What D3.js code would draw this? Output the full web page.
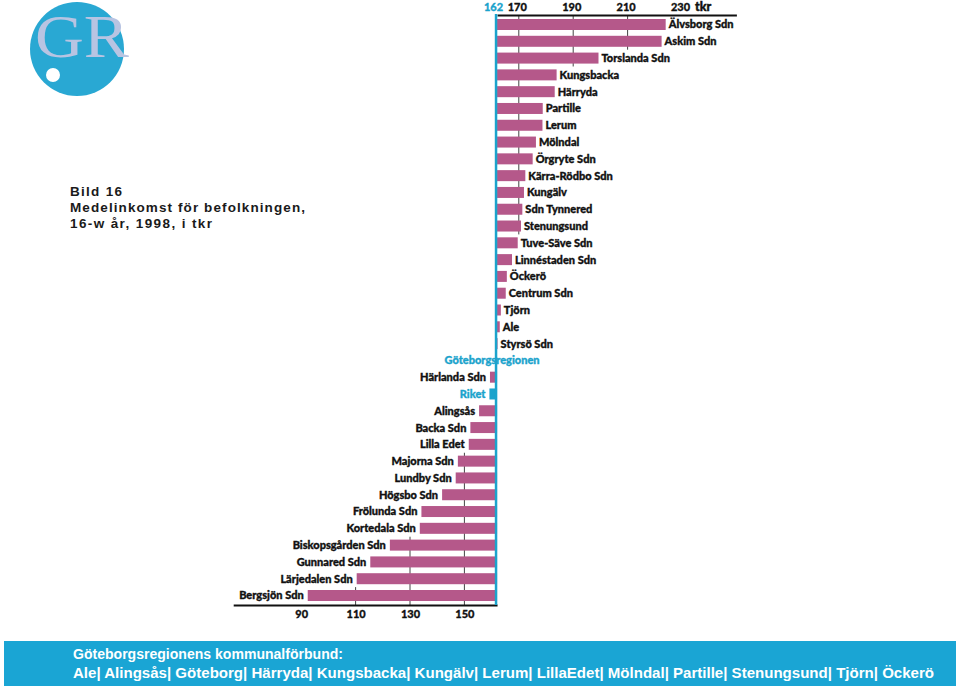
<!DOCTYPE html>
<html>
<head>
<meta charset="utf-8">
<script src="https://cdn.jsdelivr.net/npm/d3@7"></script>
<style>
  html, body { margin: 0; padding: 0; background: #fff; }
  svg { display: block; }
</style>
</head>
<body>
<script>
// ---------------- DATA ----------------
const categories = ["Älvsborg Sdn","Askim Sdn","Torslanda Sdn","Kungsbacka","Härryda","Partille","Lerum","Mölndal","Örgryte Sdn","Kärra-Rödbo Sdn","Kungälv","Sdn Tynnered","Stenungsund","Tuve-Säve Sdn","Linnéstaden Sdn","Öckerö","Centrum Sdn","Tjörn","Ale","Styrsö Sdn","Göteborgsregionen","Härlanda Sdn","Riket","Alingsås","Backa Sdn","Lilla Edet","Majorna Sdn","Lundby Sdn","Högsbo Sdn","Frölunda Sdn","Kortedala Sdn","Biskopsgården Sdn","Gunnared Sdn","Lärjedalen Sdn","Bergsjön Sdn"];
const values = [224.0,222.5,199.3,183.9,183.2,178.8,178.7,176.3,175.1,172.4,171.9,171.3,170.8,169.6,167.5,165.6,165.2,163.4,163.0,162.2,162.0,159.4,159.2,155.4,152.2,151.6,147.6,146.8,141.8,134.2,133.6,122.6,115.4,110.4,92.4];
const highlighted = ["Göteborgsregionen","Riket"];
const baseline = 162;
const topTicks = [162,170,190,210,230];
const bottomTicks = [90,110,130,150];
const unitLabel = "tkr";
const titleLines = ["Bild 16","Medelinkomst för befolkningen,","16-w år, 1998, i tkr"];
const footerLines = ["Göteborgsregionens kommunalförbund:",
  "Ale| Alingsås| Göteborg| Härryda| Kungsbacka| Kungälv| Lerum| LillaEdet| Mölndal| Partille| Stenungsund| Tjörn| Öckerö"];
const logoText = "GR";

// ---------------- STYLE ----------------
const W = 960, H = 686;
const barColor = "#b5588a";
const teal = "#1ba3cc";
const labelFont = "Lato, 'Open Sans', sans-serif";

const data = categories.map((c, i) => ({ name: c, value: values[i] }));

const svg = d3.select("body").append("svg").attr("width", W).attr("height", H);

// scales
const x = d3.scaleLinear().domain([65, 250]).range([233.2, 736.4]);
const y = d3.scaleBand().domain(categories).range([16.1, 603.9]).paddingInner(0.345).paddingOuter(0.1725);
const topAxisY = 15, bottomAxisY = 605;
const x0 = x(baseline);
const step = y.step(), bw = y.bandwidth(), gap = step - bw;

// ---------------- GRIDLINES (behind bars) ----------------
const grid = svg.append("g");
topTicks.filter(t => t !== baseline).forEach(t => {
  const crossing = data.filter(d => d.value > t);
  if (!crossing.length) return;
  const last = crossing[crossing.length - 1];
  grid.append("line").attr("x1", x(t)).attr("x2", x(t))
    .attr("y1", topAxisY).attr("y2", y(last.name) + bw + gap / 2)
    .attr("stroke", "#444").attr("stroke-width", 1);
});
bottomTicks.forEach(t => {
  const crossing = data.filter(d => d.value < t);
  if (!crossing.length) return;
  const first = crossing[0];
  grid.append("line").attr("x1", x(t)).attr("x2", x(t))
    .attr("y1", y(first.name) - gap / 2).attr("y2", bottomAxisY)
    .attr("stroke", "#444").attr("stroke-width", 1);
});

// ---------------- BARS ----------------
svg.append("g").selectAll("rect").data(data).join("rect")
  .attr("x", d => Math.min(x(d.value), x0))
  .attr("y", d => y(d.name))
  .attr("width", d => Math.abs(x(d.value) - x0))
  .attr("height", bw)
  .attr("fill", d => highlighted.includes(d.name) ? teal : barColor);

// ---------------- LABELS ----------------
svg.append("g").selectAll("text").data(data).join("text")
  .attr("x", d => {
    if (d.name === "Göteborgsregionen") return x0 - 5;
    return d.value >= baseline ? x(d.value) + 3 : x(d.value) - 4;
  })
  .attr("y", d => y(d.name) + bw / 2)
  .attr("dy", "0.36em")
  .attr("text-anchor", d => d.name === "Göteborgsregionen" ? "middle" : (d.value >= baseline ? "start" : "end"))
  .attr("font-family", labelFont)
  .attr("font-weight", 900)
  .attr("font-size", 11)
  .attr("fill", d => highlighted.includes(d.name) ? teal : "#111")
  .attr("stroke", d => highlighted.includes(d.name) ? teal : "#111")
  .attr("stroke-width", 0.35)
  .text(d => d.name);

// ---------------- AXES ----------------
const xTop = d3.scaleLinear().domain([baseline, 250]).range([x0, x(250)]);
const xBot = d3.scaleLinear().domain([65, baseline]).range([x(65), x0]);

const topAxis = svg.append("g").attr("transform", `translate(0,${topAxisY})`)
  .call(d3.axisTop(xTop).tickValues(topTicks).tickSize(0).tickPadding(4).tickFormat(d3.format("d")));
const botAxis = svg.append("g").attr("transform", `translate(0,${bottomAxisY})`)
  .call(d3.axisBottom(xBot).tickValues(bottomTicks).tickSize(0).tickPadding(5).tickFormat(d3.format("d")));

[topAxis, botAxis].forEach(g => {
  g.select(".domain").attr("stroke", "#111").attr("stroke-width", 2);
  g.selectAll("text").attr("font-family", labelFont).attr("font-weight", 900)
    .attr("font-size", 11).attr("fill", "#111").attr("stroke", "#111").attr("stroke-width", 0.3);
});
topAxis.selectAll(".tick text").filter(d => d !== baseline).attr("dx", -2);
topAxis.selectAll(".tick text").filter(d => d === baseline)
  .attr("fill", teal).attr("stroke", teal).attr("dx", -4);

svg.append("text").attr("x", x(230) + 13).attr("y", topAxisY - 4)
  .attr("font-family", labelFont).attr("font-weight", 900).attr("font-size", 12.5)
  .attr("fill", "#111").attr("stroke", "#111").attr("stroke-width", 0.4).text(unitLabel);

// teal baseline
svg.append("line").attr("x1", x0 - 1).attr("x2", x0 - 1)
  .attr("y1", topAxisY - 1).attr("y2", bottomAxisY)
  .attr("stroke", teal).attr("stroke-width", 2.5);

// ---------------- LOGO ----------------
const logo = svg.append("g");
logo.append("circle").attr("cx", 77).attr("cy", 49).attr("r", 47).attr("fill", "#29a8d3");
logo.append("text").attr("x", 35).attr("y", 57)
  .attr("font-family", "'Liberation Serif', 'DejaVu Serif', serif")
  .attr("font-size", 62).attr("fill", "#b8c4e2")
  .attr("textLength", 94).attr("lengthAdjust", "spacingAndGlyphs")
  .text(logoText);
logo.append("circle").attr("cx", 53).attr("cy", 75).attr("r", 7).attr("fill", "#fff");

// ---------------- TITLE ----------------
const title = svg.append("g").attr("font-family", "'Liberation Sans', Arial, sans-serif")
  .attr("font-weight", 700).attr("font-size", 13.5).attr("fill", "#1a1a1a");
const titleLengths = [52, 235, 142];
titleLines.forEach((t, i) => {
  title.append("text").attr("x", 70).attr("y", 196 + i * 16)
    .attr("textLength", titleLengths[i]).attr("lengthAdjust", "spacing").text(t);
});

// ---------------- FOOTER ----------------
svg.append("rect").attr("x", 4).attr("y", 641).attr("width", 952).attr("height", 45).attr("fill", "#1aa5d4");
const footerLengths = [270, 861];
footerLines.forEach((t, i) => {
  svg.append("text").attr("x", 73).attr("y", 659 + i * 19)
    .attr("font-family", "'Liberation Sans', Arial, sans-serif")
    .attr("font-weight", 700).attr("font-size", 14.5).attr("fill", "#fff")
    .attr("textLength", footerLengths[i]).attr("lengthAdjust", "spacingAndGlyphs")
    .text(t);
});
</script>
</body>
</html>
